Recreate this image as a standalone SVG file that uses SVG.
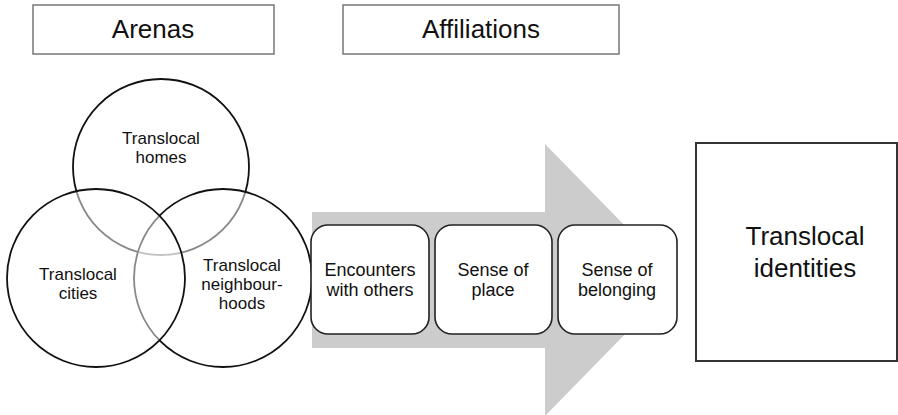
<svg xmlns="http://www.w3.org/2000/svg" width="898" height="415" viewBox="0 0 898 415">
<style>
text{font-family:"Liberation Sans",Arial,sans-serif;fill:#111;text-anchor:middle}
.hdr{fill:#fff;stroke:#777;stroke-width:1.5}
.circ{fill:#fff;fill-opacity:0.5;stroke:#111;stroke-width:1.8}
.step{fill:#fff;stroke:#222;stroke-width:1.6}
.t17{font-size:17px}
.t18{font-size:18px}
.t26{font-size:26px}
</style>
<rect width="898" height="415" fill="#fff"/>
<g id="header-arenas">
<rect class="hdr" x="33" y="5" width="241" height="49"/>
<text class="t26" x="153" y="38">Arenas</text>
</g>
<g id="header-affiliations">
<rect class="hdr" x="343" y="5" width="276" height="49"/>
<text class="t26" x="481" y="38">Affiliations</text>
</g>
<g id="connectors">
<polygon points="312,212 545,212 545,144 678,280 545,416 545,348 312,348" fill="#cccccc"/>
</g>
<g id="homes">
<circle class="circ" cx="161" cy="167" r="88"/>
<text class="t17" x="161" y="144">Translocal</text>
<text class="t17" x="161" y="163">homes</text>
</g>
<g id="neighbourhoods">
<circle class="circ" cx="223" cy="278" r="89"/>
<text class="t17" x="242" y="271">Translocal</text>
<text class="t17" x="242" y="290">neighbour-</text>
<text class="t17" x="242" y="309">hoods</text>
</g>
<g id="cities">
<circle class="circ" cx="96" cy="278" r="89"/>
<text class="t17" x="78" y="280">Translocal</text>
<text class="t17" x="78" y="299">cities</text>
</g>
<g id="encounters">
<rect class="step" x="311" y="225" width="118" height="109" rx="17"/>
<text class="t18" x="370" y="276">Encounters</text>
<text class="t18" x="370" y="296">with others</text>
</g>
<g id="place">
<rect class="step" x="435" y="225" width="117" height="109" rx="17"/>
<text class="t18" x="493" y="276">Sense of</text>
<text class="t18" x="493" y="296">place</text>
</g>
<g id="belonging">
<rect class="step" x="558" y="225" width="119" height="109" rx="17"/>
<text class="t18" x="617" y="276">Sense of</text>
<text class="t18" x="617" y="296">belonging</text>
</g>
<g id="identities">
<rect x="696" y="143" width="201" height="218" fill="#fff" stroke="#333" stroke-width="2"/>
<text class="t26" x="805" y="245">Translocal</text>
<text class="t26" x="805" y="277">identities</text>
</g>
</svg>
